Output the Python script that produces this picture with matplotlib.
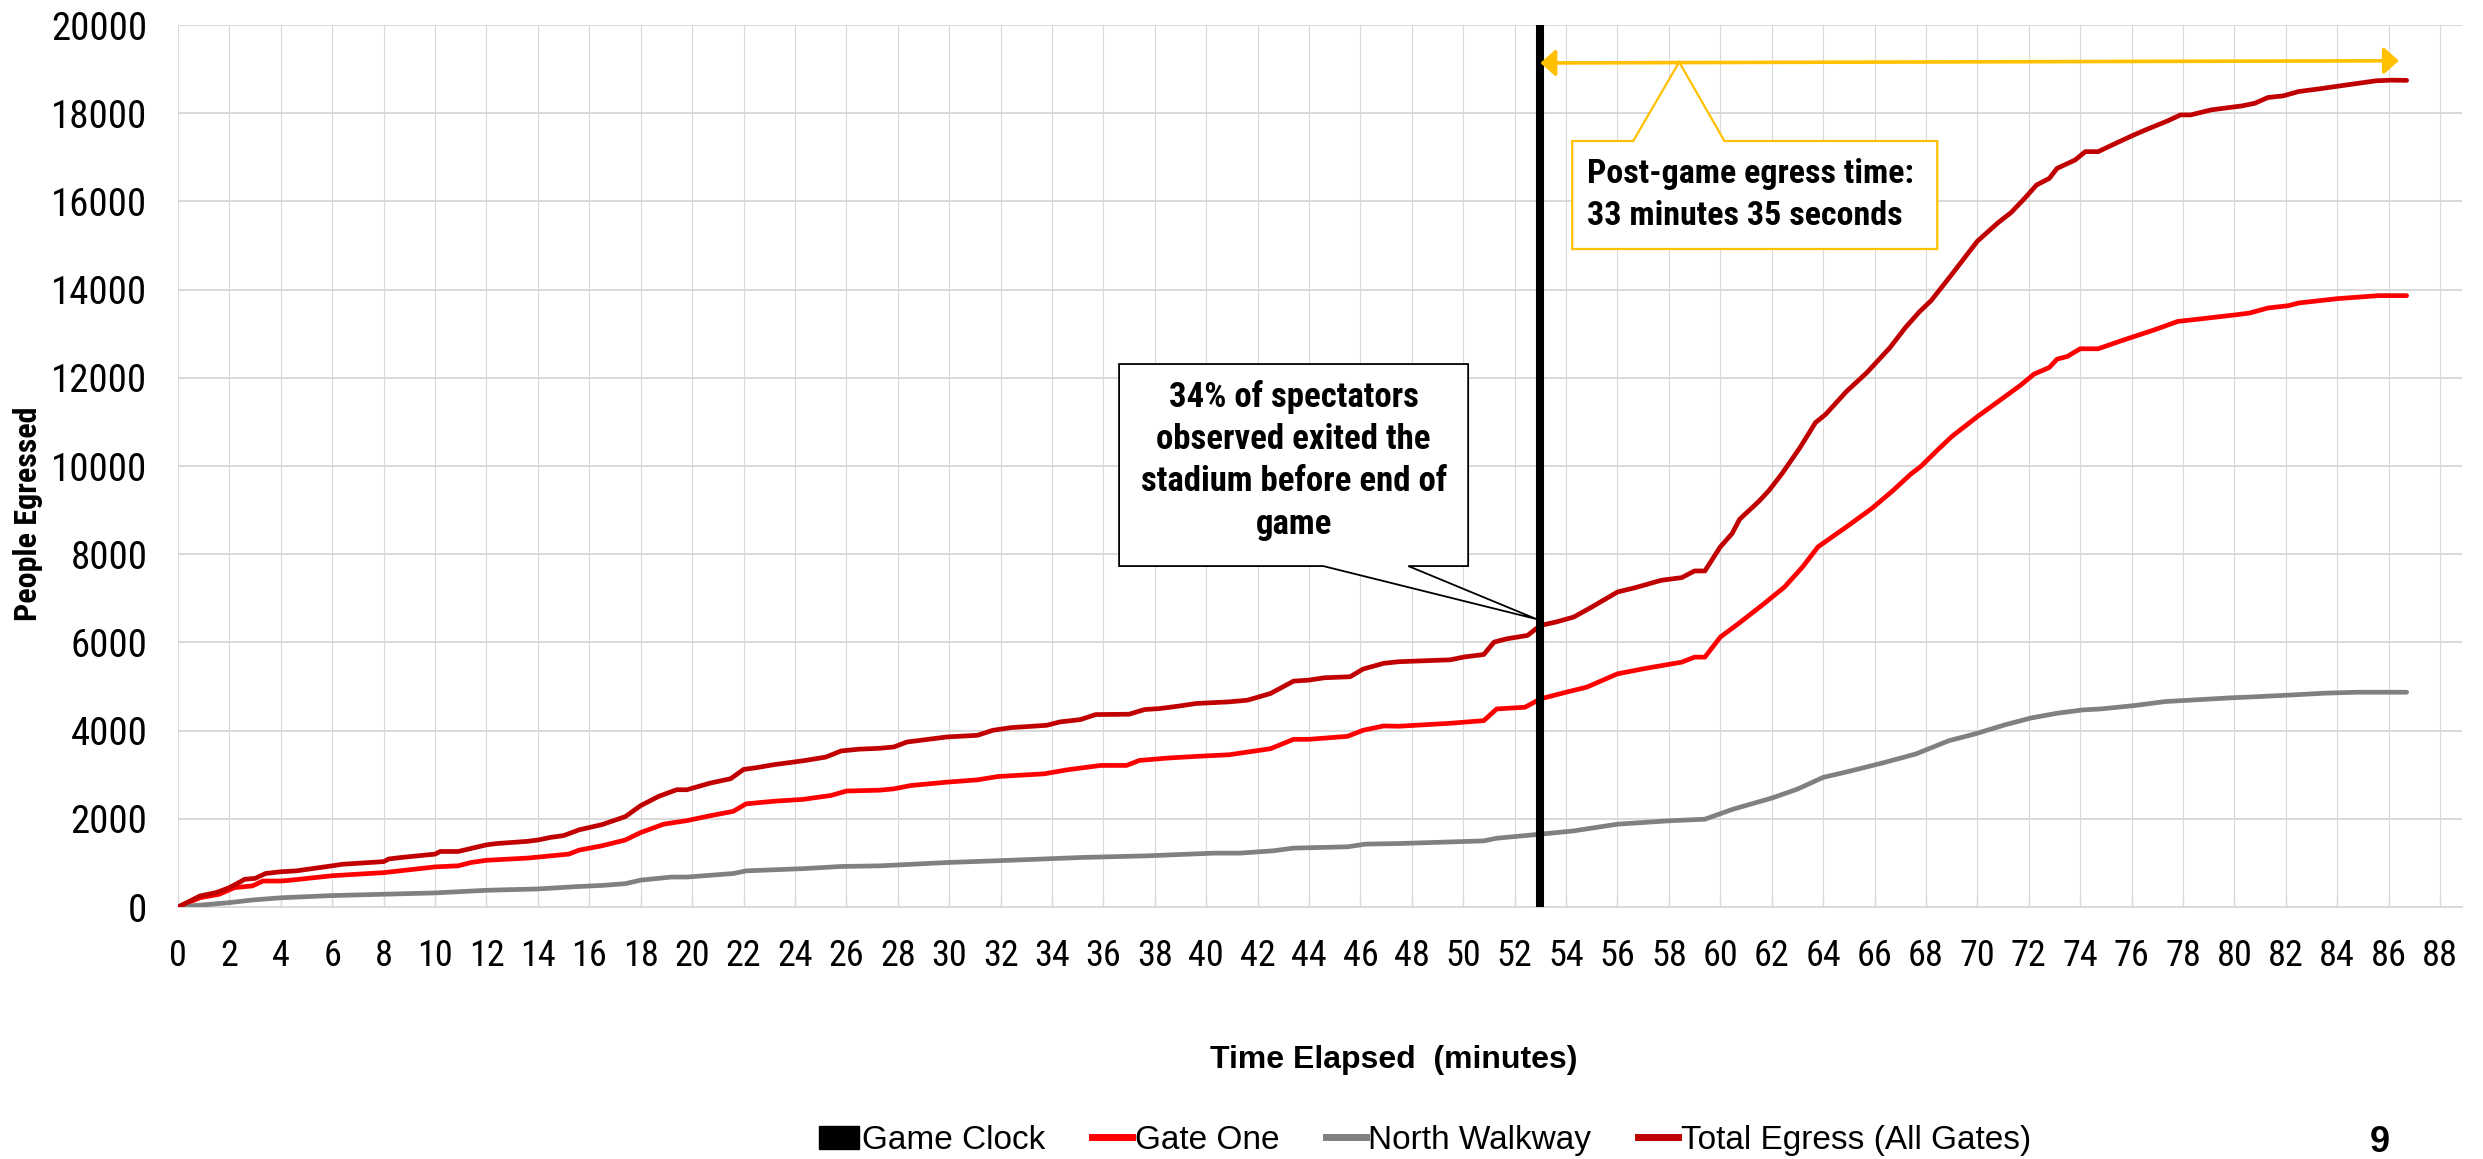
import os
import numpy as np
import matplotlib
matplotlib.use('Agg')
import matplotlib.pyplot as plt
from matplotlib import font_manager
from matplotlib.font_manager import FontProperties
from matplotlib.patches import Polygon, Patch
from matplotlib.lines import Line2D

# Arial Narrow look-alike, if one is installed
installed = {os.path.basename(f.fname).lower(): f.fname for f in font_manager.fontManager.ttflist}

def narrow_font(files):
    for fn in files:
        if fn.lower() in installed:
            return installed[fn.lower()]
    return None

narrow_reg = narrow_font(['LiberationSansNarrow-Regular.ttf', 'NotoSans-Condensed.ttf',
                          'RobotoCondensed-Regular.ttf', 'OpenSans_Condensed-Regular.ttf'])
narrow_bold = narrow_font(['LiberationSansNarrow-Bold.ttf', 'NotoSans-CondensedBold.ttf',
                           'RobotoCondensed-Bold.ttf', 'OpenSans_Condensed-Bold.ttf'])

def fp_narrow(size, bold=False):
    path = narrow_bold if bold else narrow_reg
    if path:
        return FontProperties(fname=path, size=size)
    # no narrow face: plain Arial metrics, shrunk to keep the widths
    return FontProperties(family='Liberation Sans', weight='bold' if bold else 'normal', size=size * 0.84)

# ---- data (minutes elapsed, people egressed) ----
total_t = [0, 0.85, 1.5, 2.0, 2.6, 3.0, 3.4, 4.0, 4.6, 6.0, 6.4, 8.0, 8.2, 8.7, 10.0, 10.2,
           10.9, 12.0, 12.4, 13.6, 14.0, 14.5, 15.0, 15.6, 16.5, 17.4, 18.0, 18.7, 19.4, 19.8,
           20.7, 21.5, 22.0, 22.5, 23.2, 24.3, 25.2, 25.8, 26.5, 27.3, 27.85, 28.36, 29.9, 31.1,
           31.7, 32.4, 33.8, 34.3, 35.1, 35.7, 37.0, 37.6, 38.2, 39.0, 39.6, 40.9, 41.6, 42.5,
           43.4, 44.0, 44.6, 45.6, 46.1, 46.9, 47.5, 49.5, 50.0, 50.8, 51.2, 51.7, 52.5, 53.0,
           53.6, 54.3, 55.0, 56.0, 56.7, 57.7, 58.5, 59.0, 59.4, 60.0, 60.46, 60.75, 61.5, 61.9,
           62.4, 63.1, 63.7, 64.1, 64.9, 65.7, 66.6, 67.2, 67.75, 68.2, 69.0, 69.5, 70.0, 70.8,
           71.3, 71.8, 72.3, 72.8, 73.1, 73.8, 74.2, 74.7, 75.3, 76.0, 76.6, 77.4, 77.9, 78.3,
           79.1, 80.3, 80.8, 81.3, 81.9, 82.5, 83.4, 84.4, 85.5, 86.1, 86.7]
total_v = [0, 250, 330, 440, 630, 650, 760, 800, 820, 935, 970, 1030, 1090, 1125, 1200, 1260,
           1260, 1410, 1440, 1490, 1520, 1580, 1620, 1750, 1870, 2050, 2300, 2510, 2660, 2660,
           2810, 2910, 3120, 3160, 3230, 3315, 3400, 3540, 3580, 3600, 3630, 3742, 3856, 3894,
           4008, 4068, 4121, 4197, 4250, 4364, 4372, 4478, 4501, 4562, 4615, 4653, 4690, 4842,
           5123, 5146, 5199, 5222, 5396, 5526, 5563, 5606, 5667, 5727, 6008, 6083, 6159, 6386,
           6462, 6576, 6803, 7144, 7243, 7409, 7470, 7621, 7621, 8167, 8470, 8792, 9200, 9450,
           9828, 10418, 10984, 11173, 11687, 12118, 12685, 13139, 13500, 13750, 14341, 14720, 15098, 15515,
           15742, 16045, 16371, 16523, 16750, 16939, 17129, 17129, 17295, 17485, 17636, 17826, 17962, 17962,
           18076, 18167, 18227, 18356, 18394, 18492, 18561, 18644, 18735, 18750, 18745]

gate_t = [0, 0.85, 1.6, 2.2, 2.9, 3.3, 4.0, 4.4, 6.0, 8.0, 10.0, 10.9, 11.4, 12.0, 13.6, 15.2,
          15.6, 16.5, 17.4, 18.0, 18.9, 19.8, 20.7, 21.6, 22.1, 23.2, 24.3, 25.4, 26.0, 27.3,
          27.85, 28.5, 29.9, 31.1, 31.9, 33.7, 34.6, 35.9, 36.9, 37.4, 38.5, 39.6, 40.9, 41.6,
          42.5, 43.4, 44.0, 45.5, 46.1, 46.9, 47.5, 49.5, 50.8, 51.3, 52.4, 53.0, 54.0, 54.8,
          56.0, 57.0, 58.5, 59.0, 59.4, 60.0, 60.7, 61.7, 62.5, 63.2, 63.8, 65.0, 65.9, 66.7,
          67.4, 67.8, 68.45, 69.0, 70.0, 70.9, 71.7, 72.2, 72.8, 73.1, 73.5, 74.0, 74.7, 75.6,
          76.9, 77.8, 78.4, 80.1, 80.6, 81.3, 82.1, 82.5, 84.0, 85.6, 86.7]
gate_v = [0, 210, 290, 440, 480, 590, 590, 610, 710, 780, 910, 935, 1010, 1060, 1110, 1200,
          1290, 1390, 1520, 1690, 1880, 1960, 2070, 2170, 2340, 2400, 2440, 2530, 2630, 2650,
          2680, 2755, 2831, 2884, 2960, 3021, 3112, 3211, 3211, 3324, 3378, 3416, 3453, 3514,
          3590, 3803, 3803, 3871, 4008, 4106, 4100, 4167, 4227, 4492, 4530, 4720, 4871, 4985,
          5288, 5402, 5553, 5667, 5667, 6121, 6424, 6879, 7258, 7712, 8167, 8659, 9041, 9435,
          9812, 9990, 10363, 10666, 11121, 11500, 11841, 12083, 12235, 12424, 12485, 12659, 12659, 12841,
          13091, 13280, 13318, 13432, 13470, 13583, 13636, 13697, 13795, 13864, 13864]

walk_t = [0, 2.0, 2.9, 4.0, 6.0, 8.0, 10.0, 12.0, 14.0, 15.4, 16.5, 17.4, 18.0, 19.2, 19.8,
          21.6, 22.1, 24.3, 25.8, 27.3, 29.9, 32.5, 35.1, 37.7, 40.3, 41.3, 42.6, 43.4, 45.5,
          46.2, 47.5, 50.8, 51.3, 53.0, 54.3, 56.0, 58.0, 59.4, 60.5, 62.0, 63.0, 64.0, 65.0,
          66.4, 67.6, 68.9, 69.9, 71.1, 72.1, 73.1, 74.1, 74.8, 76.1, 77.3, 78.0, 79.8, 81.0,
          82.3, 83.5, 84.8, 86.7]
walk_v = [0, 100, 160, 210, 260, 290, 320, 380, 410, 460, 490, 530, 610, 680, 680,
          760, 820, 870, 920, 934, 1009, 1063, 1123, 1161, 1222, 1222, 1275, 1336, 1366,
          1427, 1440, 1500, 1560, 1652, 1727, 1879, 1955, 1992, 2220, 2470, 2674, 2940, 3076,
          3280, 3470, 3773, 3924, 4136, 4288, 4394, 4470, 4492, 4568, 4659, 4682, 4742, 4773,
          4811, 4849, 4871, 4871]

game_end = 53.0          # end of game (minutes)
egress_end = 86.4        # last spectator out
x_ticks = np.arange(0, 90, 2)
y_ticks = np.arange(0, 20001, 2000)

C_GATE = '#FF0000'
C_WALK = '#808080'
C_TOTAL = '#C00000'
C_GOLD = '#FFC000'
C_GRID = '#D9D9D9'

fig = plt.figure(figsize=(24.83, 11.59), dpi=100)
ax = fig.add_axes([0.0717, 0.2174, 0.9198, 0.761])

ax.set_xlim(0, 88.85)
ax.set_ylim(0, 20000)
ax.set_xticks(x_ticks)
ax.set_yticks(y_ticks)
ax.set_xticklabels([str(v) for v in x_ticks], fontproperties=fp_narrow(26))
ax.set_yticklabels([str(v) for v in y_ticks], fontproperties=fp_narrow(28))
ax.tick_params(axis='x', direction='in', length=8, color=C_GRID, width=1, pad=22)
ax.tick_params(axis='y', length=0, pad=22)
ax.yaxis.grid(True, color=C_GRID, lw=1.4)
ax.xaxis.grid(True, color=C_GRID, lw=0.8)
ax.set_axisbelow(True)
for s in ['top', 'right', 'left']:
    ax.spines[s].set_visible(False)
ax.spines['bottom'].set_color(C_GRID)
ax.spines['bottom'].set_linewidth(1.4)

line_kw = dict(lw=3.4, solid_joinstyle='round', solid_capstyle='round', zorder=3)
ax.plot(gate_t, gate_v, color=C_GATE, **line_kw)
ax.plot(walk_t, walk_v, color=C_WALK, **line_kw)
ax.plot(total_t, total_v, color=C_TOTAL, **line_kw)
ax.vlines(game_end, 0, 20000, color='black', lw=5.8, zorder=4)

# post-game arrow
ax.annotate('', xy=(egress_end, 19190), xytext=(game_end, 19140),
            arrowprops=dict(arrowstyle='<|-|>,head_length=0.45,head_width=0.4', color=C_GOLD,
                            lw=2.6, mutation_scale=20, shrinkA=0, shrinkB=0), zorder=5)

# callout: spectators before end of game
left_box = [(36.61, 12313), (50.19, 12313), (50.19, 7732), (47.86, 7732), (52.84, 6531),
            (44.55, 7732), (36.61, 7732)]
ax.add_patch(Polygon(left_box, closed=True, facecolor='white', edgecolor='black', lw=1.3, zorder=6))
ax.text(43.4, 10130, '34% of spectators\nobserved exited the\nstadium before end of\ngame',
        ha='center', va='center', fontproperties=fp_narrow(25, bold=True),
        linespacing=1.36, zorder=7)

# callout: post-game egress time
right_box = [(54.24, 17370), (56.61, 17370), (58.40, 19161), (60.16, 17370), (68.44, 17370),
             (68.44, 14921), (54.24, 14921)]
ax.add_patch(Polygon(right_box, closed=True, facecolor='white', edgecolor=C_GOLD, lw=1.6, zorder=6))
ax.text(54.82, 16150, 'Post-game egress time:\n33 minutes 35 seconds',
        ha='left', va='center', fontproperties=fp_narrow(24.5, bold=True),
        linespacing=1.42, zorder=7)

fig.text(0.0112, 0.557, 'People Egressed', rotation=90, ha='center', va='center',
         fontproperties=fp_narrow(23, bold=True))
fig.text(0.5612, 0.085, 'Time Elapsed  (minutes)', ha='center', va='center',
         family='Liberation Sans', fontweight='bold', fontsize=23)

handles = [Patch(facecolor='black', edgecolor='black'),
           Line2D([], [], color=C_GATE, lw=5),
           Line2D([], [], color=C_WALK, lw=5),
           Line2D([], [], color=C_TOTAL, lw=5)]
labels = ['Game Clock', 'Gate One', 'North Walkway', 'Total Egress (All Gates)']
fig.legend(handles, labels, loc='center', bbox_to_anchor=(0.574, 0.016), ncol=4,
           frameon=False, prop={'family': 'Liberation Sans', 'size': 24}, handlelength=1.2,
           handletextpad=0.08, columnspacing=1.4, borderaxespad=0, borderpad=0)

fig.text(0.9585, 0.014, '9', ha='center', va='center', family='Liberation Sans',
         fontweight='bold', fontsize=26)

fig.savefig('out.png', dpi=100)
